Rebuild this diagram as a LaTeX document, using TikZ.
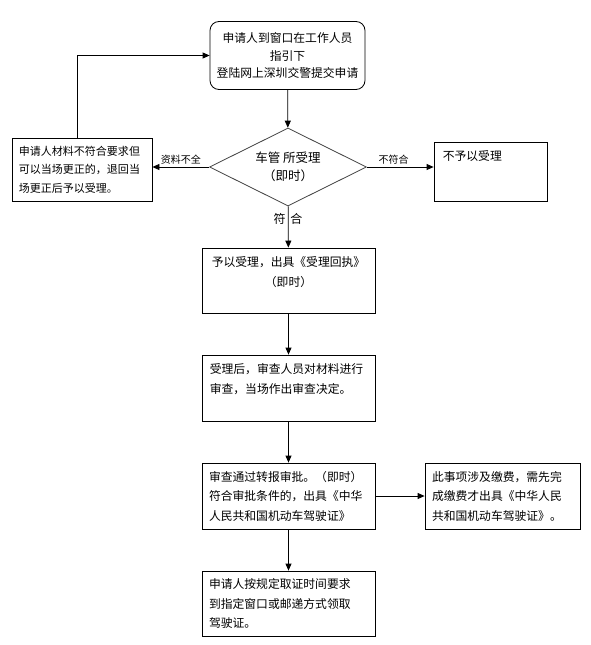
\documentclass[tikz,border=0pt]{standalone}
\usepackage{fontspec}
\setmainfont{Noto Sans CJK SC}
\usetikzlibrary{positioning,shapes.geometric,arrows.meta}
\tikzset{
  main box/.style={draw, line width=0.8pt, inner ysep=0pt, inner xsep=7pt, align=left,
    font=\fontsize{11.8}{19.5}\selectfont},
  start box/.style={main box, rounded corners=9pt, align=center, inner xsep=4pt,
    font=\fontsize{11.8}{17.5}\selectfont},
  check node/.style={diamond, draw=black!75, line width=0.8pt, inner sep=0pt,
    aspect=2, align=center, font=\fontsize{12.5}{18}\selectfont},
  box text/.style={inner sep=0pt, font=\fontsize{11.8}{19.5}\selectfont},
  flow/.style={draw, line width=0.8pt, -{Triangle[length=7pt,width=6pt]}},
  edge text/.style={font=\fontsize{10}{12}\selectfont, inner sep=2pt}
}
\begin{document}
\begin{tikzpicture}[x=1pt,y=-1pt]
            \useasboundingbox (0,0) rectangle (591,645);

            \node[start box, text width=147, minimum height=68] (start) at (287.5,55.5)
              {申请人到窗口在工作人员\\指引下\\登陆网上深圳交警提交申请};
            \node[check node, minimum width=157, minimum height=78] (check) at (288,167)
              {车管 所受理\\（即时）};
            \node[main box, text width=126, minimum height=63, font=\fontsize{11}{18.5}\selectfont]
              (back) at (82,169.5) {申请人材料不符合要求但\\可以当场更正的，退回当\\场更正后予以受理。};
            \node[main box, minimum width=113, minimum height=59] (refuse) at (490.5,171.5) {};
            \node[box text, anchor=north west] (refuse text) at ([xshift=9pt,yshift=-9pt]refuse.north west)
              {不予以受理};

            \node[main box, minimum width=173, minimum height=65] (accept) at (288.5,280.5) {};
            \node[box text, anchor=north, align=center] (accept text) at ([yshift=-9pt]accept.north)
              {予以受理，出具《受理回执》\\（即时）};
            \node[main box, minimum width=173, minimum height=66] (review) at (288.5,388) {};
            \node[box text, anchor=north west, align=left] (review text) at ([xshift=8pt,yshift=-9pt]review.north west)
              {受理后，审查人员对材料进行\\审查，当场作出审查决定。};
            \node[main box, text width=159, minimum height=66] (approve) at (288.5,496)
              {审查通过转报审批。（即时）\\符合审批条件的，出具《中华\\人民共和国机动车驾驶证》};
            \node[main box, text width=141, minimum height=66] (fee) at (502.5,496)
              {此事项涉及缴费，需先完\\成缴费才出具《中华人民\\共和国机动车驾驶证》。};
            \node[main box, text width=159, minimum height=65] (collect) at (288.5,603.5)
              {申请人按规定取证时间要求\\到指定窗口或邮递方式领取\\驾驶证。};

            \path[flow]
            (start) edge (check)
            (check) edge (accept)
            (accept) edge (review)
            (review) edge (approve)
            (approve) edge (fee)
            (approve) edge (collect);
            \draw[flow] (check.west) -- node[edge text, above] {资料不全} (check.west -| back.east);
            \draw[flow] (check.east) -- node[edge text, above, pos=0.4] {不符合} (check.east -| refuse.west);
            \draw[flow] ([xshift=-5pt]back.north) |- (start.west);
            \node[font=\fontsize{12}{14}\selectfont, inner sep=0pt] (yes) at (288,219) {符\hspace{5pt}合};
        \end{tikzpicture}
\end{document}
